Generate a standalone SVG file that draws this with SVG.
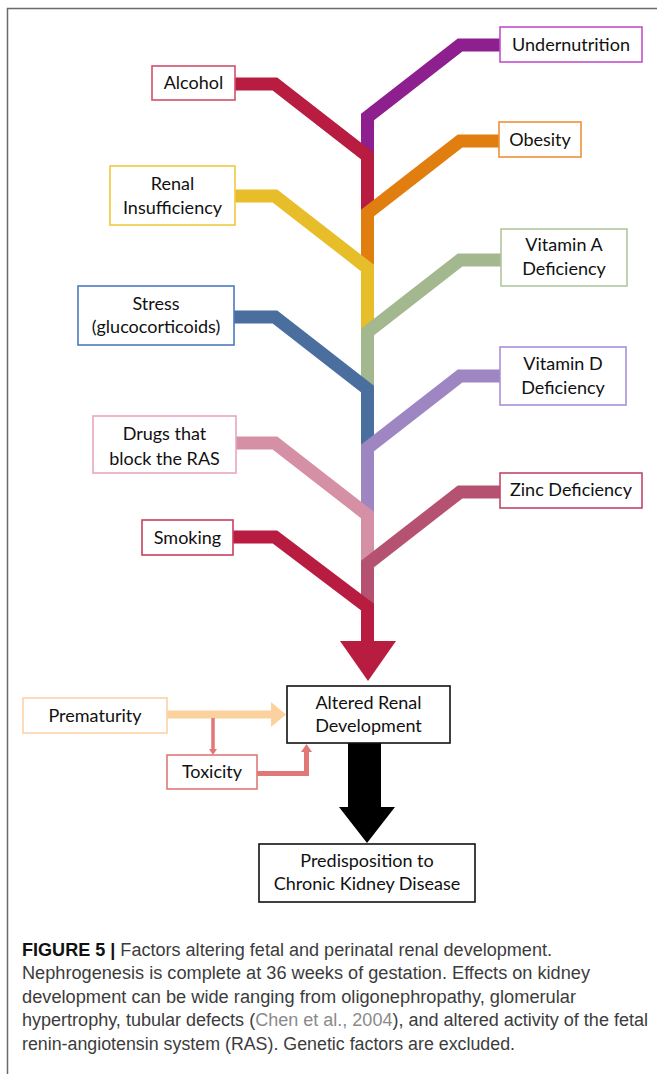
<svg xmlns="http://www.w3.org/2000/svg" width="657" height="1074" viewBox="0 0 657 1074">
<style>
.box{fill:#fff;stroke-width:1.6}
.lbl{font-family:Lato,"Open Sans",sans-serif;font-size:18px;fill:#111;text-anchor:middle}
.br{fill:none;stroke-width:13;stroke-linejoin:miter;stroke-miterlimit:10;stroke-linecap:butt}
.cap{font-family:"Liberation Sans",Arial,sans-serif;font-size:18px;fill:#3c3c3c}
</style>
<rect width="657" height="1074" fill="#fff"/>
<path d="M7.5 1074 V8.5 H657" fill="none" stroke="#6a6a6a" stroke-width="1.5"/>
<g id="connectors">
<polyline class="br" stroke="#8d1f8e" points="500,45 460,45 367.5,117 367.5,160"/>
<polyline class="br" stroke="#b81c40" points="235,84 275,84 367.5,156 367.5,215"/>
<polyline class="br" stroke="#e07f10" points="499,141 460,141 367.5,213 367.5,270"/>
<polyline class="br" stroke="#e8bd2a" points="235,196 275,196 367.5,268 367.5,334"/>
<polyline class="br" stroke="#a3b88f" points="501,260 460,260 367.5,332 367.5,392"/>
<polyline class="br" stroke="#4a6f9f" points="234,317 275,317 367.5,389 367.5,450"/>
<polyline class="br" stroke="#9d86c2" points="500,376 460,376 367.5,448 367.5,518"/>
<polyline class="br" stroke="#d590a6" points="236,443 275,443 367.5,515 367.5,566"/>
<polyline class="br" stroke="#b55272" points="500,492 460,492 367.5,564 367.5,610"/>
<polyline class="br" stroke="#b81c40" points="233,537 275,537 367.5,607 367.5,643"/>
<polygon fill="#b81c40" points="340,641 396,641 368,681"/>
<polygon fill="#000" points="348,743 381,743 381,807 395,807 367,843 339,807 348,807"/>
<line x1="167" y1="714.5" x2="273" y2="714.5" stroke="#fbd19e" stroke-width="8"/>
<polygon fill="#fbd19e" points="271,702 286,714.5 271,727"/>
<line x1="213" y1="718" x2="213" y2="750" stroke="#e07878" stroke-width="3.5"/>
<polygon fill="#e07878" points="209,749 217,749 213,755"/>
<polyline fill="none" stroke="#e07878" stroke-width="5" points="257,773.5 306.5,773.5 306.5,751"/>
<polygon fill="#e07878" points="301,752 312,752 306.5,744"/>
</g>
<g id="undernutrition"><rect class="box" x="500" y="27" width="142" height="35" stroke="#c050c8"/><text class="lbl" x="571" y="50.5">Undernutrition</text></g>
<g id="alcohol"><rect class="box" x="152" y="66" width="83" height="34" stroke="#d0506a"/><text class="lbl" x="193.5" y="89">Alcohol</text></g>
<g id="obesity"><rect class="box" x="499" y="122" width="82" height="35" stroke="#f0903a"/><text class="lbl" x="540" y="145.5">Obesity</text></g>
<g id="renal-insufficiency"><rect class="box" x="110" y="166" width="125" height="59" stroke="#f0c840"/><text class="lbl" x="172.5" y="190">Renal</text><text class="lbl" x="172.5" y="214">Insufficiency</text></g>
<g id="vitamin-a"><rect class="box" x="501" y="229" width="126" height="57" stroke="#b0c8a0"/><text class="lbl" x="564" y="251">Vitamin A</text><text class="lbl" x="564" y="275">Deficiency</text></g>
<g id="stress"><rect class="box" x="78" y="286" width="156" height="59" stroke="#4a7ac0"/><text class="lbl" x="156" y="310">Stress</text><text class="lbl" x="156" y="333">(glucocorticoids)</text></g>
<g id="vitamin-d"><rect class="box" x="500" y="347" width="126" height="58" stroke="#a890d8"/><text class="lbl" x="563" y="370">Vitamin D</text><text class="lbl" x="563" y="394">Deficiency</text></g>
<g id="drugs"><rect class="box" x="93" y="416" width="143" height="57" stroke="#e8a8b8"/><text class="lbl" x="164.5" y="440">Drugs that</text><text class="lbl" x="164.5" y="465">block the RAS</text></g>
<g id="zinc"><rect class="box" x="500" y="473" width="142" height="35" stroke="#c04868"/><text class="lbl" x="571" y="496">Zinc Deficiency</text></g>
<g id="smoking"><rect class="box" x="142" y="520" width="91" height="35" stroke="#c84060"/><text class="lbl" x="187.5" y="544">Smoking</text></g>
<g id="prematurity"><rect class="box" x="23" y="698" width="144" height="35" stroke="#fad3a8"/><text class="lbl" x="95" y="722">Prematurity</text></g>
<g id="altered-renal"><rect class="box" x="287" y="686" width="163" height="57" stroke="#111"/><text class="lbl" x="368.5" y="709">Altered Renal</text><text class="lbl" x="368.5" y="732">Development</text></g>
<g id="toxicity"><rect class="box" x="167" y="755" width="90" height="34" stroke="#e07878"/><text class="lbl" x="212" y="778">Toxicity</text></g>
<g id="predisposition"><rect class="box" x="259" y="844" width="216" height="58" stroke="#111"/><text class="lbl" x="367" y="867">Predisposition to</text><text class="lbl" x="367" y="890">Chronic Kidney Disease</text></g>
<g id="caption">
<text class="cap" x="22" y="955.5" textLength="530" lengthAdjust="spacingAndGlyphs"><tspan font-weight="bold" fill="#111">FIGURE 5 |</tspan> Factors altering fetal and perinatal renal development.</text>
<text class="cap" x="22" y="979" textLength="568" lengthAdjust="spacingAndGlyphs">Nephrogenesis is complete at 36 weeks of gestation. Effects on kidney</text>
<text class="cap" x="22" y="1002.5" textLength="554" lengthAdjust="spacingAndGlyphs">development can be wide ranging from oligonephropathy, glomerular</text>
<text class="cap" x="22" y="1026" textLength="626" lengthAdjust="spacingAndGlyphs">hypertrophy, tubular defects (<tspan fill="#8a8a8a">Chen et al., 2004</tspan>), and altered activity of the fetal</text>
<text class="cap" x="22" y="1049.5" textLength="493" lengthAdjust="spacingAndGlyphs">renin-angiotensin system (RAS). Genetic factors are excluded.</text>
</g>
</svg>
